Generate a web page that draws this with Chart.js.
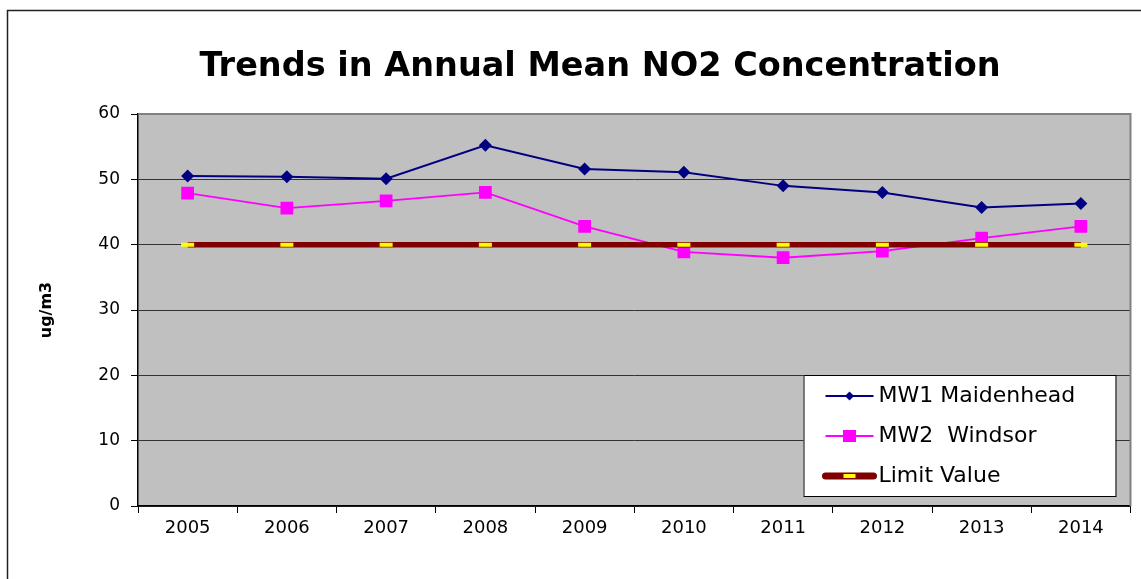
<!DOCTYPE html>
<html>
<head>
<meta charset="utf-8">
<title>Trends in Annual Mean NO2 Concentration</title>
<script src="https://cdn.jsdelivr.net/npm/chart.js@4/dist/chart.umd.min.js"></script>
<style>
    html, body { margin: 0; padding: 0; background: #fff; }
    #wrap { width: 1141px; height: 579px; }
</style>
</head>
<body>
<div id="wrap"><canvas id="no2-chart" width="1141" height="579"></canvas></div>
<script>
// --- data ---
const years = ['2005', '2006', '2007', '2008', '2009', '2010', '2011', '2012', '2013', '2014'];
const maidenhead = [50.5, 50.4, 50.1, 55.2, 51.6, 51.1, 49.0, 48.0, 45.7, 46.3];
const windsor = [47.9, 45.6, 46.7, 48.0, 42.8, 38.9, 38.0, 39.0, 41.0, 42.8];
const limitValue = [40, 40, 40, 40, 40, 40, 40, 40, 40, 40];
const yTicks = [0, 10, 20, 30, 40, 50, 60];
const chartTitle = 'Trends in Annual Mean NO2 Concentration';

const FONT = 'DejaVu Sans';

// grey plot area, frames and the title (centred on the whole frame, not the plot)
const frames = {
    id: 'frames',
    beforeDraw(chart) {
        const { ctx, chartArea: a } = chart;
        ctx.save();
        ctx.fillStyle = '#C0C0C0';
        ctx.fillRect(a.left, a.top, a.right - a.left, a.bottom - a.top);
        ctx.restore();
    },
    beforeDatasetsDraw(chart) {
        const { ctx, chartArea: a } = chart;
        ctx.save();
        ctx.strokeStyle = '#808080';
        ctx.lineWidth = 2;
        ctx.beginPath();
        ctx.moveTo(a.left, a.top);
        ctx.lineTo(a.right, a.top);
        ctx.lineTo(a.right, a.bottom);
        ctx.stroke();
        ctx.restore();
    },
    afterDraw(chart) {
        const ctx = chart.ctx;
        ctx.save();
        // outer chart border (runs off the picture right and bottom)
        ctx.strokeStyle = '#222';
        ctx.lineWidth = 1.5;
        ctx.strokeRect(7.5, 10.5, 1300, 700);

        ctx.fillStyle = '#000';
        ctx.font = 'bold 33.5px "' + FONT + '"';
        ctx.textAlign = 'center';
        ctx.textBaseline = 'middle';
        ctx.fillText(chartTitle, 600, 67);
        ctx.restore();
    }
};

// legend box sitting inside the plot, bottom right
const legendBox = {
    id: 'legendBox',
    afterDraw(chart) {
        const { ctx, chartArea: a } = chart;
        const box = { x: a.right - 327, y: a.bottom - 131, w: 312, h: 121 };
        ctx.save();
        ctx.fillStyle = '#fff';
        ctx.fillRect(box.x, box.y, box.w, box.h);
        ctx.strokeStyle = '#000';
        ctx.lineWidth = 1;
        ctx.strokeRect(box.x + 0.5, box.y + 0.5, box.w, box.h);

        const x0 = box.x + 22, x1 = box.x + 70, mx = box.x + 46;
        chart.data.datasets.forEach((ds, i) => {
            const y = box.y + 21 + i * 40;
            ctx.strokeStyle = ds.borderColor;
            ctx.lineWidth = ds.legendLineWidth;
            ctx.lineCap = ds.legendLineWidth > 3 ? 'round' : 'butt';
            ctx.beginPath();
            ctx.moveTo(x0, y);
            ctx.lineTo(x1, y);
            ctx.stroke();

            ctx.fillStyle = ds.pointBackgroundColor;
            if (ds.pointStyle === 'rectRot') {
                const r = 4.5;
                ctx.beginPath();
                ctx.moveTo(mx - r, y); ctx.lineTo(mx, y - r);
                ctx.lineTo(mx + r, y); ctx.lineTo(mx, y + r);
                ctx.closePath();
                ctx.fill();
            } else if (ds.pointStyle === 'rect') {
                ctx.fillRect(mx - 6.5, y - 6, 13, 12);
            } else {
                ctx.fillStyle = ds.pointBorderColor;
                ctx.fillRect(mx - 6, y - 2, 12, 4);
            }

            ctx.fillStyle = '#000';
            ctx.font = '22px "' + FONT + '"';
            ctx.textBaseline = 'middle';
            ctx.textAlign = 'left';
            ctx.fillText(ds.label, x1 + 5, y);
        });
        ctx.restore();
    }
};

new Chart(document.getElementById('no2-chart'), {
    type: 'line',
    data: {
        labels: years,
        datasets: [
            {
                label: 'MW1 Maidenhead',
                data: maidenhead,
                borderColor: '#000080',
                borderWidth: 2,
                pointStyle: 'rectRot',
                pointRadius: 6.5,
                pointBackgroundColor: '#000080',
                pointBorderWidth: 0,
                legendLineWidth: 2,
                order: 1
            },
            {
                label: 'MW2  Windsor',
                data: windsor,
                borderColor: '#FF00FF',
                borderWidth: 1.8,
                pointStyle: 'rect',
                pointRadius: 9,
                pointBackgroundColor: '#FF00FF',
                pointBorderWidth: 0,
                legendLineWidth: 1.8,
                order: 2
            },
            {
                label: 'Limit Value',
                data: limitValue,
                borderColor: '#800000',
                borderWidth: 5.5,
                pointStyle: 'line',
                pointRadius: 6.5,
                pointBackgroundColor: '#FFFF00',
                pointBorderColor: '#FFFF00',
                pointBorderWidth: 4,
                legendLineWidth: 7,
                order: 0
            }
        ]
    },
    options: {
        responsive: false,
        animation: false,
        layout: { padding: { left: 0, right: 9, top: 114, bottom: 0 } },
        elements: { line: { tension: 0 } },
        plugins: {
            legend: { display: false },
            tooltip: { enabled: false },
            title: { display: false }
        },
        scales: {
            x: {
                offset: true,
                afterFit(scale) { scale.height = 73; },
                grid: {
                    drawOnChartArea: false,
                    offset: true,
                    color: '#000',
                    tickLength: 7
                },
                border: { color: '#000', width: 1.5 },
                ticks: {
                    color: '#000',
                    padding: 5,
                    font: { family: FONT, size: 18 }
                }
            },
            y: {
                min: 0,
                max: 60,
                afterFit(scale) { scale.width = 138; },
                afterBuildTicks(scale) { scale.ticks = yTicks.map(v => ({ value: v })); },
                grid: {
                    color: '#333',
                    lineWidth: 1,
                    tickLength: 7,
                    tickColor: '#000'
                },
                border: { color: '#000', width: 1.5 },
                ticks: {
                    color: '#000',
                    padding: 11,
                    font: { family: FONT, size: 17 }
                },
                title: {
                    display: true,
                    text: 'ug/m3',
                    color: '#000',
                    font: { family: FONT, size: 16, weight: 'bold' },
                    padding: { top: 37, bottom: 0 }
                }
            }
        }
    },
    plugins: [frames, legendBox]
});
</script>
</body>
</html>
